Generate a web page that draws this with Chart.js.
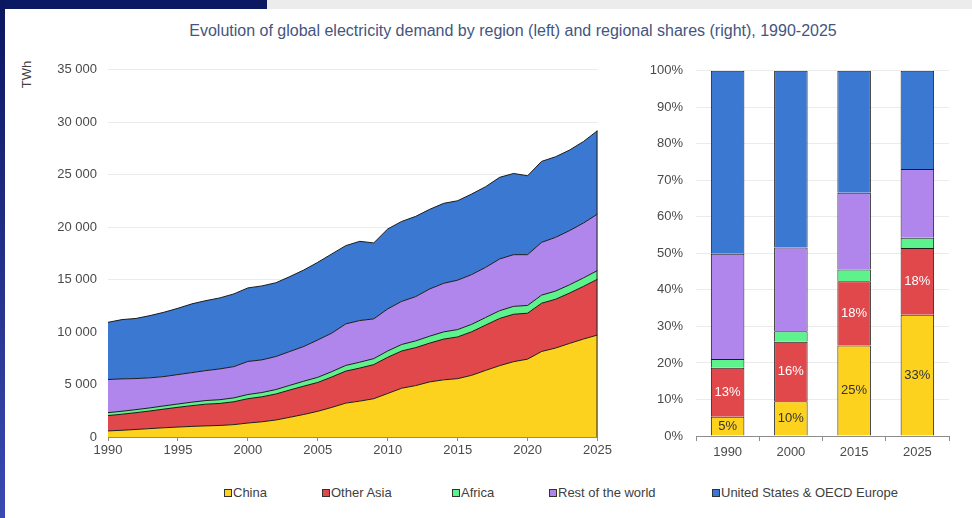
<!DOCTYPE html>
<html>
<head>
<meta charset="utf-8">
<script src="https://cdn.jsdelivr.net/npm/chart.js@4.4.1/dist/chart.umd.min.js"></script>
<style>
  body { margin: 0; width: 972px; height: 518px; background: #0b1862; overflow: hidden; position: relative; font-family: "Liberation Sans", Arial, sans-serif; }
  .strip-top { position: absolute; left: 267px; top: 0; width: 705px; height: 9px; background: #ececec; }
  .strip-left { position: absolute; left: 0; top: 0; width: 5px; height: 518px; background: linear-gradient(#0b1660, #3a4ab2); }
  .panel { position: absolute; left: 5px; top: 9px; width: 967px; height: 509px; background: #fff; }
  .title { position: absolute; left: 0; width: 1026px; top: 22px; text-align: center; font-size: 16px; color: #44557f; }
  .unit { position: absolute; left: 13px; top: 67px; font-size: 13px; color: #404040; transform: rotate(-90deg); }
  #left { position: absolute; left: 40px; top: 51px; }
  #right { position: absolute; left: 630px; top: 50px; }
  .legend { position: absolute; top: 485px; left: 0; width: 972px; font-size: 13px; color: #404040; }
  .legend span { position: absolute; white-space: nowrap; }
  .legend i { display: inline-block; width: 6px; height: 6px; border: 1px solid #333; margin-right: 1px; vertical-align: 0px; }
</style>
</head>
<body>
<div class="strip-top"></div>
<div class="strip-left"></div>
<div class="panel"></div>
<div class="title">Evolution of global electricity demand by region (left) and regional shares (right), 1990-2025</div>
<div class="unit">TWh</div>
<canvas id="left" width="574" height="419"></canvas>
<canvas id="right" width="335" height="420"></canvas>
<div class="legend" id="legend"></div>
<script>
// categories
const years = [1990, 1991, 1992, 1993, 1994, 1995, 1996, 1997, 1998, 1999,
  2000, 2001, 2002, 2003, 2004, 2005, 2006, 2007, 2008, 2009,
  2010, 2011, 2012, 2013, 2014, 2015, 2016, 2017, 2018, 2019,
  2020, 2021, 2022, 2023, 2024, 2025];
const regions = ["China", "Other Asia", "Africa", "Rest of the world", "United States & OECD Europe"];
const colors = ["#fdd21f", "#e1484b", "#5ef28c", "#b186ec", "#3b78d1"];

// demand, TWh
const china = [580, 640, 720, 800, 880, 950, 1010, 1060, 1100, 1180,
  1330, 1450, 1620, 1880, 2150, 2450, 2820, 3230, 3420, 3650,
  4150, 4650, 4900, 5250, 5450, 5560, 5880, 6350, 6800, 7180,
  7420, 8150, 8480, 8920, 9340, 9720];
const otherAsia = [1460, 1530, 1600, 1680, 1780, 1880, 1980, 2070, 2100, 2180,
  2320, 2380, 2480, 2600, 2700, 2750, 2900, 3050, 3150, 3250,
  3450, 3550, 3620, 3700, 3880, 3980, 4150, 4320, 4500, 4520,
  4380, 4600, 4650, 4800, 5020, 5320];
const africa = [280, 285, 290, 295, 305, 315, 330, 345, 355, 370,
  400, 410, 420, 445, 470, 490, 510, 540, 560, 570,
  600, 620, 640, 660, 690, 700, 710, 720, 740, 750,
  740, 770, 780, 790, 810, 830];
const restOfWorld = [3160, 3085, 2960, 2865, 2795, 2805, 2820, 2855, 2935, 2980,
  3150, 3110, 3150, 3225, 3310, 3560, 3670, 3960, 3970, 3790,
  4010, 4110, 4220, 4500, 4630, 4710, 4740, 4780, 4930, 4930,
  4840, 5030, 5120, 5160, 5230, 5380];
const oecd = [5450, 5650, 5730, 5930, 6130, 6320, 6550, 6670, 6770, 6930,
  7010, 7050, 7030, 7140, 7290, 7400, 7550, 7460, 7550, 7240,
  7620, 7620, 7650, 7590, 7620, 7570, 7680, 7690, 7780, 7740,
  7520, 7720, 7680, 7680, 7770, 7950];

// shares, %
const shareYears = ["1990", "2000", "2015", "2025"];
const shareChina = [5.3, 9.5, 24.8, 33.2];
const shareOtherAsia = [13.4, 16.3, 17.6, 18.3];
const shareAfrica = [2.4, 2.9, 3.2, 2.8];
const shareRest = [28.8, 22.9, 21.0, 18.8];
const shareOecd = [50.1, 48.4, 33.4, 26.9];

Chart.defaults.font.family = '"Liberation Sans", Arial, sans-serif';
Chart.defaults.font.size = 13;
Chart.defaults.color = "#4a4a4a";

const series = [china, otherAsia, africa, restOfWorld, oecd];
const shares = [shareChina, shareOtherAsia, shareAfrica, shareRest, shareOecd];

// closes the right edge of the stacked areas with a dark line
const rightEdge = {
  id: "rightEdge",
  afterDatasetsDraw(chart) {
    const a = chart.chartArea;
    const top = chart.getDatasetMeta(series.length - 1).data;
    const p = top[top.length - 1];
    const ctx = chart.ctx;
    ctx.save();
    ctx.strokeStyle = "#1c1c1c";
    ctx.lineWidth = 1;
    ctx.beginPath();
    ctx.moveTo(a.right - 0.5, p.y);
    ctx.lineTo(a.right - 0.5, a.bottom);
    ctx.stroke();
    ctx.restore();
  },
};

new Chart(document.getElementById("left"), {
  type: "line",
  data: {
    datasets: series.map((s, i) => ({
      label: regions[i],
      data: s.map((v, j) => ({ x: years[j], y: v })),
      backgroundColor: colors[i],
      borderColor: "#1c1c1c",
      borderWidth: 1,
      pointRadius: 0,
      fill: i === 0 ? "origin" : "-1",
    })),
  },
  options: {
    responsive: false,
    animation: false,
    layout: { padding: { top: 10, right: 16, left: 0, bottom: 0 } },
    plugins: { legend: { display: false }, tooltip: { enabled: false } },
    scales: {
      x: {
        type: "linear",
        min: 1990,
        max: 2025,
        ticks: { stepSize: 5, callback: (v) => String(v), padding: 2, maxRotation: 0 },
        grid: { drawOnChartArea: false, tickLength: 4, color: "#8c8c8c" },
        border: { color: "#8c8c8c" },
        afterFit: (s) => { s.height = 33; },
      },
      y: {
        stacked: true,
        min: 0,
        max: 35000,
        ticks: {
          stepSize: 5000,
          padding: 11,
          callback: (v) => String(v).replace(/\B(?=(\d{3})+(?!\d))/g, " "),
        },
        grid: { color: "#ebebeb", drawTicks: false },
        border: { display: false },
        afterFit: (s) => { s.width = 68; },
      },
    },
  },
  plugins: [rightEdge],
});

const barLabels = {
  id: "barLabels",
  afterDatasetsDraw(chart) {
    const ctx = chart.ctx;
    ctx.save();
    ctx.font = '13px "Liberation Sans", Arial, sans-serif';
    ctx.textAlign = "center";
    ctx.textBaseline = "middle";
    [0, 1].forEach((di) => {
      const meta = chart.getDatasetMeta(di);
      meta.data.forEach((bar, j) => {
        const v = chart.data.datasets[di].data[j];
        ctx.fillStyle = di === 0 ? "#333333" : "#ffffff";
        ctx.fillText(Math.round(v) + "%", bar.x, (bar.y + bar.base) / 2);
      });
    });
    ctx.restore();
  },
};

new Chart(document.getElementById("right"), {
  type: "bar",
  data: {
    labels: shareYears,
    datasets: shares.map((s, i) => ({
      label: regions[i],
      data: s,
      backgroundColor: colors[i],
      borderColor: "#1c1c1c",
      borderWidth: 1,
      barPercentage: 0.53,
      categoryPercentage: 1,
    })),
  },
  options: {
    responsive: false,
    animation: false,
    layout: { padding: { top: 10, right: 16, left: 0, bottom: 0 } },
    plugins: { legend: { display: false }, tooltip: { enabled: false } },
    scales: {
      x: {
        stacked: true,
        ticks: { padding: 4 },
        grid: { drawOnChartArea: false, tickLength: 5, color: "#8c8c8c" },
        border: { color: "#8c8c8c" },
        afterFit: (s) => { s.height = 34; },
      },
      y: {
        stacked: true,
        min: 0,
        max: 100,
        ticks: { stepSize: 10, padding: 13, callback: (v) => v + "%" },
        grid: { color: "#ebebeb", drawTicks: false },
        border: { display: false },
        afterFit: (s) => { s.width = 66; },
      },
    },
  },
  plugins: [barLabels],
});

// shared legend
const legendX = [224, 322, 452, 549, 712];
const legend = document.getElementById("legend");
regions.forEach((r, i) => {
  const el = document.createElement("span");
  el.style.left = legendX[i] + "px";
  el.innerHTML = '<i style="background:' + colors[i] + '"></i>' + r;
  legend.appendChild(el);
});
</script>
</body>
</html>
